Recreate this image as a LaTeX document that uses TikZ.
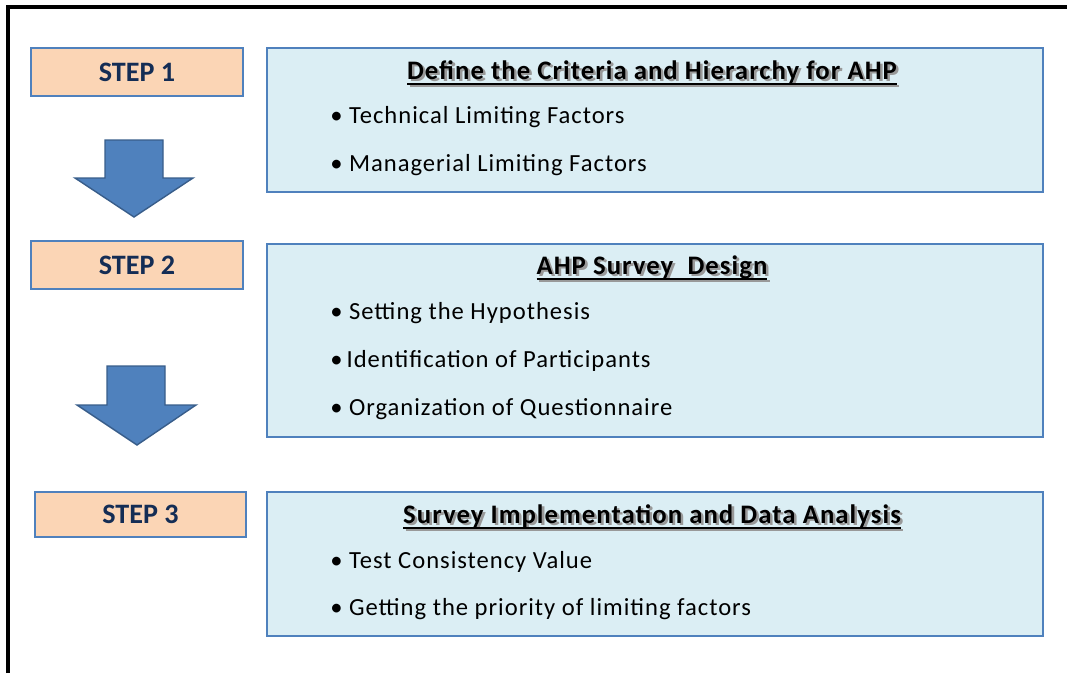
\documentclass[tikz,border=0pt]{standalone}
\usepackage{fontspec}
\setmainfont{Carlito}
\newfontfamily\spacedfont{Carlito}[LetterSpace=4]
\newcommand\headul[1]{\setbox0=\hbox{#1}\leavevmode\rlap{\copy0}\rule[-4pt]{\wd0}{1.3pt}}
\newcommand\headshade[1]{\leavevmode\rlap{\kern1.8pt\raisebox{-1.8pt}{\color{black!40}\headul{#1}}}\headul{#1}}
\usetikzlibrary{positioning}
\definecolor{peach}{RGB}{251,213,181}
\definecolor{paleblue}{RGB}{219,238,244}
\definecolor{boxblue}{RGB}{79,129,189}
\definecolor{darkblue}{RGB}{56,93,138}
\definecolor{navy}{RGB}{20,45,85}
\tikzset{
  stepbox/.style={draw=boxblue, line width=1.6pt, fill=peach, inner sep=0pt,
    font=\fontsize{20}{24}\selectfont\bfseries, text=navy},
  infobox/.style={draw=boxblue, line width=1.6pt, fill=paleblue, inner sep=0pt},
  headline/.style={font=\spacedfont\fontsize{19}{23}\selectfont\bfseries, inner sep=0pt, anchor=base},
  item/.style={font=\spacedfont\fontsize{17.5}{21}\selectfont, inner sep=0pt, anchor=base west},
  blockarrow/.style={draw=darkblue, line width=1pt, fill=boxblue}
}
\begin{document}
\begin{tikzpicture}[x=0.025cm,y=-0.025cm]
\useasboundingbox (0,0) rectangle (1067,673);
\draw [line width=2.2pt] (8,673) -- (8,7) -- (1067,7);
% steps
\node [stepbox, minimum width=212*0.025cm, minimum height=48*0.025cm] (step1) at (137,72) {STEP 1};
\node [stepbox, minimum width=212*0.025cm, minimum height=48*0.025cm] (step2) at (137,265) {STEP 2};
\node [stepbox, minimum width=211*0.025cm, minimum height=45*0.025cm] (step3) at (140.5,514.5) {STEP 3};
% arrows
\draw [blockarrow] (105,140) -- (163,140) -- (163,178) -- (193,178) -- (134,217) -- (75,178) -- (105,178) -- cycle;
\draw [blockarrow] (107,366) -- (165,366) -- (165,405) -- (196,405) -- (137,445) -- (77,405) -- (107,405) -- cycle;
% boxes
\node [infobox, minimum width=776*0.025cm, minimum height=144*0.025cm] (box1) at (655,120) {};
\node [infobox, minimum width=776*0.025cm, minimum height=193*0.025cm] (box2) at (655,340.5) {};
\node [infobox, minimum width=776*0.025cm, minimum height=144*0.025cm] (box3) at (655,564) {};
% box 1
\node [headline] (head1) at (652,79) {\headshade{Define the Criteria and Hierarchy for AHP}};
\node [item] (item11) at (330,123) {\textbullet\ Technical Limiting Factors};
\node [item] (item12) at (330,171) {\textbullet\ Managerial Limiting Factors};
% box 2
\node [headline] (head2) at (652,274) {\headshade{AHP Survey\ \ Design}};
\node [item] (item21) at (330,319) {\textbullet\ Setting the Hypothesis};
\node [item] (item22) at (330,367) {\textbullet\,Identification of Participants};
\node [item] (item23) at (330,415) {\textbullet\ Organization of Questionnaire};
% box 3
\node [headline] (head3) at (652,523) {\headshade{Survey Implementation and Data Analysis}};
\node [item] (item31) at (330,568) {\textbullet\ Test Consistency Value};
\node [item] (item32) at (330,615) {\textbullet\ Getting the priority of limiting factors};
\end{tikzpicture}
\end{document}
